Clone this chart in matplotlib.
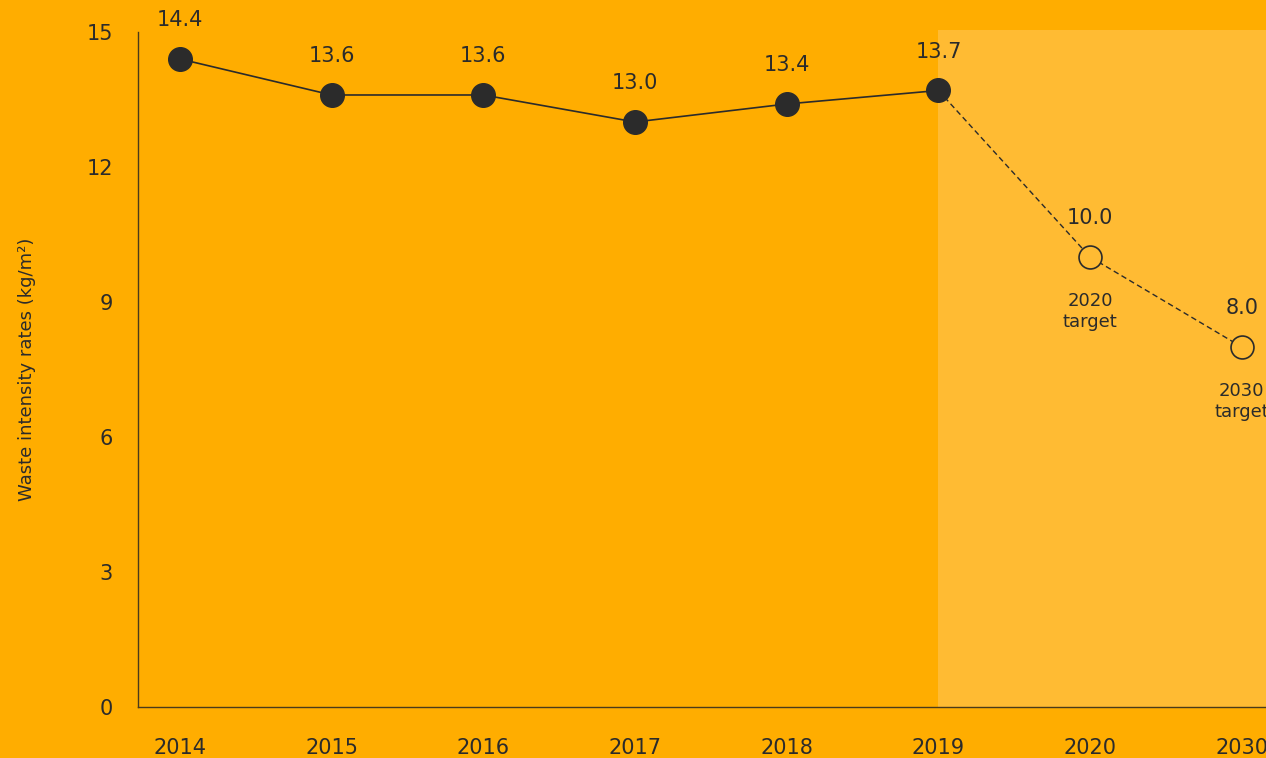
import matplotlib.pyplot as plt

years = ['2014', '2015', '2016', '2017', '2018', '2019', '2020', '2030']
actual = [14.4, 13.6, 13.6, 13.0, 13.4, 13.7]
targets = [10.0, 8.0]
target_notes = ['2020\ntarget', '2030\ntarget']
yticks = [0, 3, 6, 9, 12, 15]

bg = '#FFAD00'
shade = '#FFBB33'
dark = '#2B2B2B'

plt.rcParams['font.family'] = ['DejaVu Sans']

fig = plt.figure(figsize=(12.66, 7.58), dpi=100, facecolor=bg)
ax = fig.add_axes([0.109, 0.0673, 0.891, 0.8905])
ax.set_facecolor(bg)

xa = list(range(len(actual)))
xt = [len(actual) - 1 + i + 1 for i in range(len(targets))]

# projection area
ax.axvspan(xa[-1], 8, ymin=0, ymax=1.003, color=shade, zorder=0, lw=0, clip_on=False)

ax.plot(xa, actual, color=dark, lw=1.2, zorder=2)
ax.plot([xa[-1]] + xt, [actual[-1]] + targets, color=dark, lw=1.0, ls=(0, (4, 2.5)), zorder=2)
ax.plot(xa, actual, 'o', color=dark, ms=17, zorder=3)
ax.plot(xt, targets, 'o', mfc=shade, mec=dark, mew=1.2, ms=16.5, zorder=3, clip_on=False)

for x, v in zip(xa + xt, actual + targets):
    ax.annotate(f'{v:.1f}', (x, v), xytext=(0, 28), textcoords='offset points',
                ha='center', va='center', fontsize=15, color=dark)
for x, v, s in zip(xt, targets, target_notes):
    ax.annotate(s, (x, v), xytext=(0, -25), textcoords='offset points',
                ha='center', va='top', fontsize=13, color=dark, linespacing=1.25)

ax.set_xlim(-0.277, 7.16)
ax.set_ylim(0, 15)
ax.set_xticks(range(len(years)))
ax.set_xticklabels(years)
ax.set_yticks(yticks)
ax.tick_params(length=0, labelsize=15, colors=dark)
ax.tick_params(axis='x', pad=22)
ax.tick_params(axis='y', pad=18)
ax.set_ylabel('Waste intensity rates (kg/m²)', fontsize=13, color=dark, labelpad=36)

for s in ['top', 'right']:
    ax.spines[s].set_visible(False)
for s in ['left', 'bottom']:
    ax.spines[s].set_color('#4a3a1a')
    ax.spines[s].set_linewidth(1.0)

fig.savefig('out.png', dpi=100, facecolor=bg)
